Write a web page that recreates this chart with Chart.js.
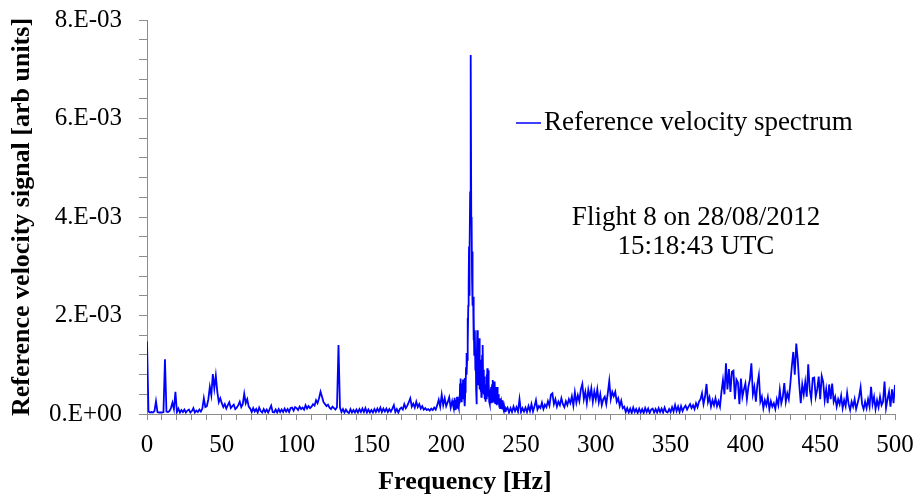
<!DOCTYPE html>
<html>
<head>
<meta charset="utf-8">
<script src="https://cdn.jsdelivr.net/npm/chart.js@4.4.1/dist/chart.umd.min.js"></script>
<style>
  html, body { margin: 0; padding: 0; background: #ffffff; }
  #wrap { width: 917px; height: 497px; }
</style>
</head>
<body>
<div id="wrap"><canvas id="c" width="917" height="497"></canvas></div>
<script>
// Spectrum values are in units of 1e-4 (arb units).
const valueUnit = 1e-4;
// 0 .. 204 Hz, 1 Hz steps
const lowBandStart = 0, lowBandStep = 1;
const lowBand = [
  14.7,0.5,0.3,0.4,0.3,0.6,2.6,0.4,0.3,0.3,
  0.3,0.4,11.1,0.5,0.4,0.6,1.2,2.3,1.0,4.5,
  0.4,1.1,0.3,0.8,0.4,0.9,0.3,0.7,0.9,0.3,
  0.6,1.2,0.3,0.7,0.4,0.9,0.5,1.1,3.2,1.4,
  1.6,3.0,5.5,3.8,8.1,5.2,7.8,4.5,2.4,3.2,
  2.2,1.4,2.0,1.1,1.8,2.4,1.2,1.6,1.9,1.0,
  1.3,1.8,2.5,1.4,2.0,4.1,2.2,3.0,1.5,1.1,
  0.4,1.2,0.5,1.0,0.3,1.3,0.6,0.3,1.0,0.4,
  0.9,0.3,1.0,1.7,0.4,0.3,0.9,0.3,1.0,0.4,
  0.9,0.4,1.1,0.5,1.0,0.4,1.2,1.3,0.7,1.4,
  1.2,0.8,1.5,1.0,1.3,0.9,1.8,1.1,1.6,1.2,
  1.5,2.0,1.7,2.8,2.2,3.2,4.5,3.5,2.4,2.0,
  1.6,1.9,1.3,1.0,1.5,1.2,0.9,1.4,14.0,1.3,
  0.4,1.0,0.3,0.9,0.4,0.2,1.0,0.3,0.8,0.3,
  0.9,0.3,1.0,0.4,1.1,0.4,1.2,0.3,0.9,0.3,
  0.8,0.3,1.0,0.4,1.1,0.5,1.3,0.4,1.1,0.5,
  1.1,0.4,1.0,0.5,1.1,1.8,0.4,1.0,0.3,1.0,
  1.3,0.9,2.0,1.2,1.7,2.4,3.2,1.5,2.1,1.3,
  2.5,1.4,2.0,1.1,1.6,0.9,1.2,0.8,1.0,0.7,
  1.1,0.8,1.3,0.9,1.8,2.9,1.5,3.9,1.8,3.2,
  1.6,2.4,3.4,1.3,2.6
];
// 205 .. 240 Hz, 0.25 Hz steps (main resonance)
const peakBandStart = 205, peakBandStep = 0.25;
const peakBand = [
  1.2,2.8,1.5,3.3,   1.0,2.9,1.8,2.2,   1.4,3.5,1.1,2.6,   1.8,3.0,1.3,2.7,
  2.2,6.2,3.0,7.2,   3.5,5.0,2.4,6.2,   3.0,7.0,4.2,5.8,   3.2,7.3,1.6,4.5,
  6.0,9.5,12.4,8.0,  11.0,19.5,14.0,22.0, 26.0,34.0,24.0,33.0, 45.0,51.2,72.9,40.0,
  39.4,28.0,33.0,22.0, 23.8,15.0,20.0,12.0, 14.0,17.0,9.0,12.5, 5.0,2.0,9.0,17.0,
  10.0,15.7,6.0,11.0, 8.0,15.4,5.0,11.0, 4.5,9.5,3.5,7.0,   12.0,6.0,14.0,5.0,
  9.0,4.0,7.6,3.0,   6.0,2.5,5.5,3.2,   8.0,4.0,9.3,5.0,   8.9,3.5,6.5,2.5,
  5.0,2.0,4.5,3.0,   5.5,2.2,4.8,6.0,   3.0,6.9,2.5,5.0,   6.3,3.5,6.6,2.2,
  4.0,2.5,5.5,1.8,   3.5,5.5,2.0,4.0,   2.0,3.2,1.5,2.6,   1.2,3.2,1.8,2.4,
  1.0,2.2,1.5,2.8,   1.2,2.0,0.8,1.6,   1.0,1.6,0.6,1.3,
  0.8
];
// 241 .. 500 Hz, 1 Hz steps
const highBandStart = 241, highBandStep = 1;
const highBand = [
      1.3,0.3,1.2,0.4,1.5,0.6,1.4,0.5,3.0,
  0.4,1.2,0.5,1.3,0.4,1.6,0.6,2.0,0.5,1.5,
  2.8,0.9,1.6,1.2,2.3,1.0,1.9,1.4,2.6,1.7,
  3.9,4.2,2.0,3.0,1.5,2.5,1.8,3.2,2.0,1.4,
  2.6,1.8,3.0,2.2,3.6,1.7,4.4,2.3,3.8,2.6,
  5.0,6.1,3.0,4.5,2.2,4.9,3.3,5.2,2.5,4.6,
  3.0,5.0,2.4,4.0,1.8,3.0,3.5,2.0,4.2,6.7,
  3.0,4.5,3.6,4.5,2.5,3.2,1.6,2.7,1.2,1.5,
  0.4,1.2,0.3,1.1,0.2,1.3,0.4,1.0,0.2,1.1,
  0.3,1.0,0.2,1.2,0.4,1.1,0.2,0.9,1.1,0.3,
  1.0,0.3,1.2,0.4,1.1,0.3,1.3,0.5,0.3,1.0,
  0.4,1.4,0.5,1.8,0.6,1.5,0.4,1.6,0.6,1.3,
  1.7,0.9,1.5,2.0,1.2,1.8,1.0,2.2,1.4,2.5,
  3.0,4.2,2.0,3.5,6.1,2.4,3.4,1.5,2.8,1.8,
  3.2,1.6,2.6,1.5,4.5,6.9,4.0,10.3,5.0,9.1,
  4.5,8.6,8.8,3.0,7.0,6.4,2.0,7.2,3.5,5.0,
  6.2,3.0,5.5,7.0,10.3,4.0,5.5,2.5,6.0,7.9,
  2.5,3.5,1.2,2.8,1.8,3.4,1.0,2.6,1.5,2.2,
  1.0,3.0,1.8,4.9,2.2,3.5,6.3,2.5,4.2,3.0,
  6.0,9.6,12.6,8.0,14.3,11.0,6.0,2.2,6.0,4.0,
  6.5,3.5,10.1,5.0,3.0,7.3,7.4,3.5,5.0,7.6,
  3.0,7.7,6.5,2.8,5.0,2.2,6.0,3.0,6.2,2.5,
  3.5,1.5,3.0,2.0,3.7,1.2,2.8,1.6,4.3,2.0,
  0.8,2.5,1.5,3.0,1.0,2.2,3.5,5.4,2.0,1.0,
  2.5,1.2,3.0,1.5,5.5,2.0,3.5,1.0,2.8,1.4,
  3.5,1.8,2.5,6.6,1.2,3.0,4.5,1.5,5.0,2.2,
  5.9
];
const yTickLabels = ['0.E+00', '2.E-03', '4.E-03', '6.E-03', '8.E-03'];
const xTickLabels = ['0', '50', '100', '150', '200', '250', '300', '350', '400', '450', '500'];
const seriesName = 'Reference velocity spectrum';
const xTitle = 'Frequency [Hz]';
const yTitle = 'Reference velocity signal [arb units]';
const noteLines = ['Flight 8 on 28/08/2012', '15:18:43 UTC'];

function bandPoints(start, step, vals) {
  return vals.map((v, i) => ({ x: start + i * step, y: v * valueUnit }));
}
const points = [].concat(
  bandPoints(lowBandStart, lowBandStep, lowBand),
  bandPoints(peakBandStart, peakBandStep, peakBand),
  bandPoints(highBandStart, highBandStep, highBand)
);

const SERIF = "'Liberation Serif', 'Times New Roman', Times, serif";
const AXIS_GREY = '#8c8c8c';

const overlay = {
  id: 'overlay',
  afterDraw(chart) {
    const ctx = chart.ctx;
    const a = chart.chartArea;
    ctx.save();
    // legend
    const ly = a.top + 103;
    const lx = a.left + 369;
    ctx.strokeStyle = '#0000ff';
    ctx.lineWidth = 1.5;
    ctx.beginPath();
    ctx.moveTo(lx, ly);
    ctx.lineTo(lx + 25, ly);
    ctx.stroke();
    ctx.fillStyle = '#000000';
    ctx.font = '27px ' + SERIF;
    ctx.textAlign = 'left';
    ctx.textBaseline = 'middle';
    ctx.fillText(seriesName, lx + 28, ly);
    // note
    ctx.textAlign = 'center';
    const nx = a.left + 549;
    ctx.fillText(noteLines[0], nx, a.top + 198);
    ctx.fillText(noteLines[1], nx, a.top + 227);
    // x axis title (sits left of the axis centre in the original)
    ctx.font = 'bold 26px ' + SERIF;
    ctx.fillText(xTitle, a.left + 318, a.bottom + 68);
    ctx.restore();
  }
};

new Chart(document.getElementById('c'), {
  type: 'line',
  data: {
    datasets: [{
      label: seriesName,
      data: points,
      borderColor: '#0000ff',
      borderWidth: 1.8,
      pointRadius: 0,
      fill: false,
      tension: 0
    }]
  },
  options: {
    responsive: false,
    devicePixelRatio: 1,
    animation: false,
    events: [],
    layout: { padding: { left: 0, right: 22, top: 20, bottom: 0 } },
    plugins: { legend: { display: false }, tooltip: { enabled: false } },
    scales: {
      x: {
        type: 'linear',
        min: 0, max: 500,
        afterFit(s) { s.height = 83; s.paddingLeft = 0; s.paddingRight = 0; },
        ticks: {
          stepSize: 10,
          autoSkip: false,
          maxRotation: 0,
          padding: 10,
          color: '#000000',
          font: { family: SERIF, size: 25 },
          callback(v) {
            const r = Math.round(v);
            return r % 50 === 0 ? xTickLabels[r / 50] : '';
          }
        },
        grid: { drawOnChartArea: false, drawTicks: true, tickLength: 6, color: AXIS_GREY, lineWidth: 1 },
        border: { display: true, color: AXIS_GREY, width: 1 },
        title: { display: false }
      },
      y: {
        type: 'linear',
        min: 0, max: 0.008,
        afterFit(s) { s.width = 147; s.paddingTop = 0; s.paddingBottom = 0; },
        ticks: {
          stepSize: 0.0004,
          autoSkip: false,
          padding: 17,
          color: '#000000',
          font: { family: SERIF, size: 25 },
          callback(v) {
            const i = Math.round(v / 0.0004);
            return i % 5 === 0 ? yTickLabels[i / 5] : '';
          }
        },
        grid: { drawOnChartArea: false, drawTicks: true, tickLength: 8, color: AXIS_GREY, lineWidth: 1 },
        border: { display: true, color: AXIS_GREY, width: 1 },
        title: {
          display: true,
          text: yTitle,
          color: '#000000',
          font: { family: SERIF, size: 26, weight: 'bold' },
          padding: { top: 7, bottom: 0 }
        }
      }
    }
  },
  plugins: [overlay]
});
</script>
</body>
</html>
